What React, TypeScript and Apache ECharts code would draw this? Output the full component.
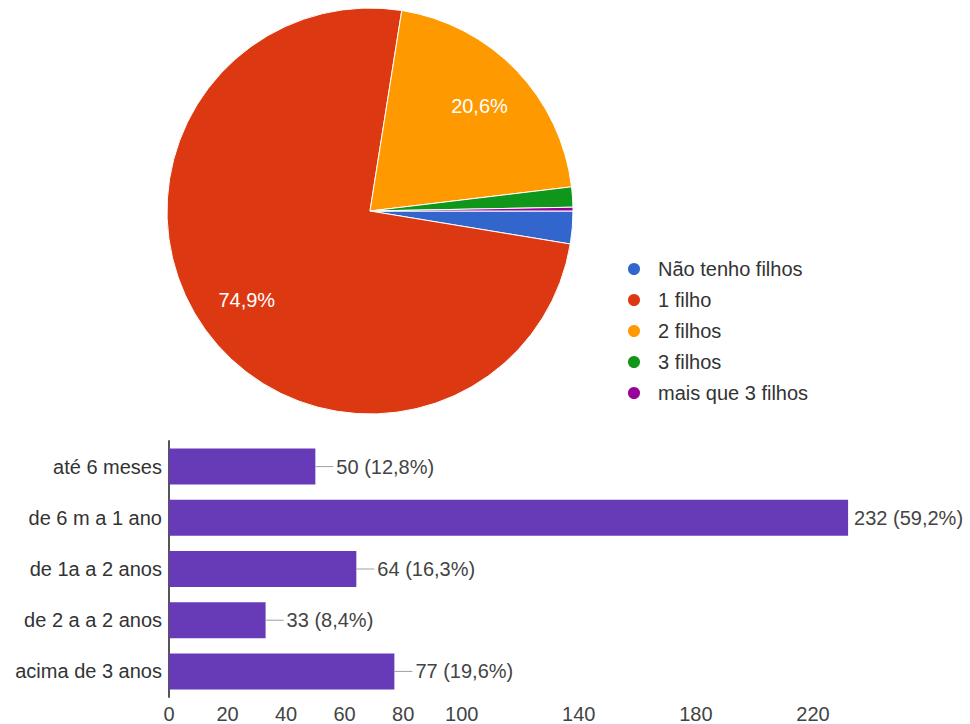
import React, { useEffect, useRef } from 'react';
import * as echarts from 'echarts';

const pieNames = ['Não tenho filhos', '1 filho', '2 filhos', '3 filhos', 'mais que 3 filhos'];
const pieValues = [2.6, 74.9, 20.6, 1.6, 0.3];
const pieColors = ['#3366cc', '#dc3912', '#ff9900', '#109618', '#990099'];

const barCategories = ['até 6 meses', 'de 6 m a 1 ano', 'de 1a a 2 anos', 'de 2 a a 2 anos', 'acima de 3 anos'];
const barCounts = [50, 232, 64, 33, 77];
const barPercents = [12.8, 59.2, 16.3, 8.4, 19.6];
const xTickValues = [0, 20, 40, 60, 80, 100, 140, 180, 220];

const FONT = "'Liberation Sans', Arial, sans-serif";
const fmt = (v: number) => v.toFixed(1).replace('.', ',');

export default function App() {
  const ref = useRef<HTMLDivElement>(null);

  useEffect(() => {
    document.body.style.margin = '0';
    if (!ref.current) return;
    const chart = echarts.init(ref.current, undefined, { renderer: 'svg' });

    const pieData = pieNames.map((name, i) => ({
      name,
      value: pieValues[i],
      itemStyle: { color: pieColors[i] },
    }));

    const longest = Math.max(...barCounts);

    chart.setOption({
      animation: false,
      backgroundColor: '#ffffff',
      textStyle: { fontFamily: FONT },
      legend: {
        data: pieNames,
        orient: 'vertical',
        left: 621,
        top: 254,
        icon: 'circle',
        itemWidth: 38,
        itemHeight: 14,
        itemGap: 11,
        selectedMode: false,
        textStyle: { fontSize: 20, color: '#333333', fontFamily: FONT },
      },
      grid: { left: 169, top: 441, width: 702.5, height: 257, containLabel: false },
      xAxis: {
        type: 'value',
        min: 0,
        max: 240,
        axisLine: { show: false },
        axisTick: { show: false },
        splitLine: { show: false },
        axisLabel: {
          customValues: xTickValues,
          fontSize: 20,
          color: '#444444',
          margin: 7,
          fontFamily: FONT,
        },
      },
      yAxis: {
        type: 'category',
        inverse: true,
        data: barCategories,
        axisLine: { show: true, lineStyle: { color: '#555555', width: 2 } },
        axisTick: { show: false },
        axisLabel: { fontSize: 20, color: '#333333', margin: 7, fontFamily: FONT },
      },
      series: [
        {
          type: 'pie',
          center: [370, 211],
          radius: 203,
          startAngle: 0,
          clockwise: true,
          label: { show: false },
          labelLine: { show: false },
          itemStyle: { borderColor: '#ffffff', borderWidth: 1 },
          emphasis: { disabled: true },
          data: pieData,
        },
        {
          type: 'pie',
          center: [370, 211],
          radius: [95, 203],
          startAngle: 0,
          clockwise: true,
          silent: true,
          avoidLabelOverlap: false,
          itemStyle: { color: 'transparent', borderWidth: 0 },
          labelLine: { show: false },
          label: {
            show: true,
            position: 'inside',
            color: '#ffffff',
            fontSize: 20,
            fontFamily: FONT,
            formatter: (p: any) => (p.value > 5 ? `${fmt(p.value)}%` : ''),
          },
          emphasis: { disabled: true },
          data: pieNames.map((name, i) => ({ name, value: pieValues[i] })),
        },
        {
          type: 'bar',
          barWidth: 36,
          itemStyle: { color: '#673ab7' },
          emphasis: { disabled: true },
          label: {
            show: true,
            position: 'right',
            distance: 0,
            fontSize: 20,
            color: '#444444',
            fontFamily: FONT,
            formatter: (p: any) => {
              const txt = `${barCounts[p.dataIndex]} (${fmt(barPercents[p.dataIndex])}%)`;
              return barCounts[p.dataIndex] === longest ? `{g| }{t|${txt}}` : `{l| }{t|${txt}}`;
            },
            rich: {
              l: { width: 18, height: 1, backgroundColor: '#9e9e9e' },
              g: { width: 3, height: 1 },
              t: { fontSize: 20, color: '#444444', fontFamily: FONT, padding: [0, 0, 0, 3] },
            },
          },
          data: barCounts,
        },
      ],
    });

    return () => chart.dispose();
  }, []);

  return <div ref={ref} style={{ width: 970, height: 724 }} />;
}
